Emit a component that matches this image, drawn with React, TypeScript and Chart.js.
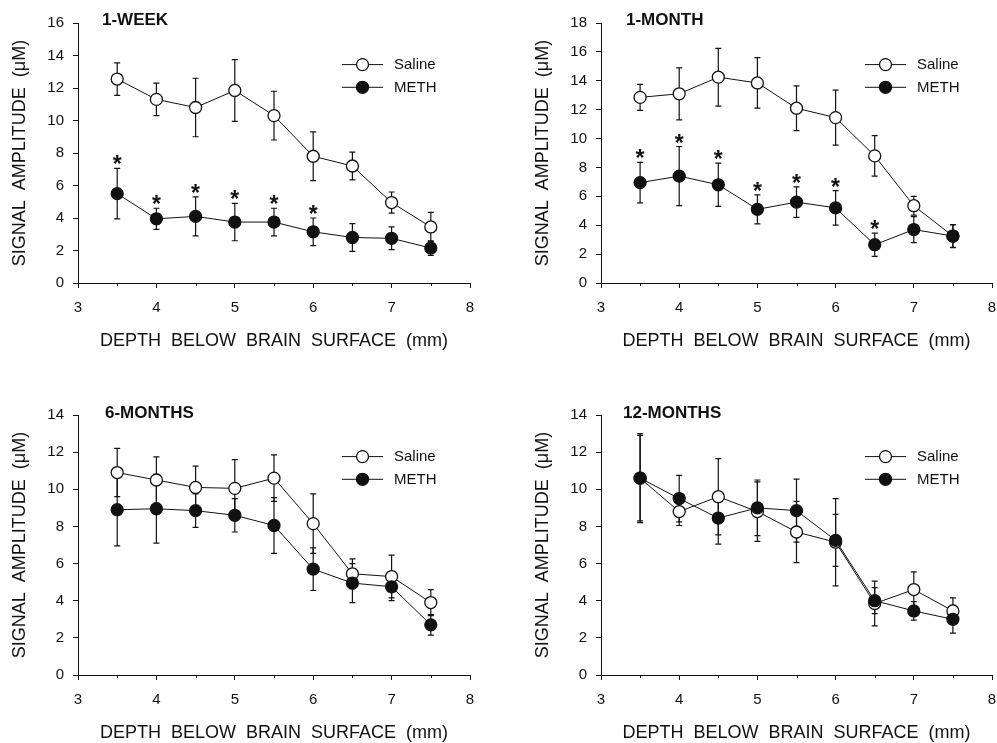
import React, { useEffect, useRef } from 'react';
import { Chart, registerables } from 'chart.js';
Chart.register(...registerables);

const depths = [3.5, 4, 4.5, 5, 5.5, 6, 6.5, 7, 7.5];
const minorTicks = [3.5, 4.5, 5.5, 6.5, 7.5];
const seriesNames = ['Saline', 'METH'];
const panelTitles = ['1-WEEK', '1-MONTH', '6-MONTHS', '12-MONTHS'];
const yMaxes = [16, 18, 14, 14];
const xTitle = 'DEPTH  BELOW  BRAIN  SURFACE  (mm)';
const yTitle = 'SIGNAL  AMPLITUDE  (\u03bcM)';

const week1Saline = [12.55, 11.3, 10.8, 11.85, 10.3, 7.8, 7.2, 4.95, 3.45];
const week1SalineErr = [1.0, 1.0, 1.8, 1.9, 1.5, 1.5, 0.85, 0.65, 0.9];
const week1Meth = [5.5, 3.95, 4.1, 3.75, 3.75, 3.15, 2.8, 2.75, 2.15];
const week1MethErr = [1.55, 0.65, 1.2, 1.15, 0.85, 0.85, 0.85, 0.7, 0.45];
const week1Sig = [1, 1, 1, 1, 1, 1, 0, 0, 0];

const month1Saline = [12.85, 13.1, 14.25, 13.85, 12.1, 11.45, 8.8, 5.35, 3.25];
const month1SalineErr = [0.9, 1.8, 2.0, 1.75, 1.55, 1.9, 1.4, 0.65, 0.78];
const month1Meth = [6.95, 7.4, 6.8, 5.1, 5.6, 5.2, 2.65, 3.7, 3.25];
const month1MethErr = [1.4, 2.05, 1.5, 1.0, 1.05, 1.2, 0.8, 0.9, 0.8];
const month1Sig = [1, 1, 1, 1, 1, 1, 1, 0, 0];

const month6Saline = [10.9, 10.5, 10.1, 10.05, 10.6, 8.15, 5.45, 5.3, 3.9];
const month6SalineErr = [1.3, 1.25, 1.15, 1.55, 1.25, 1.6, 0.8, 1.15, 0.7];
const month6Meth = [8.9, 8.95, 8.85, 8.6, 8.05, 5.7, 4.95, 4.75, 2.7];
const month6MethErr = [1.95, 1.85, 0.9, 0.9, 1.5, 1.15, 1.05, 0.75, 0.55];
const month6Sig = [0, 0, 0, 0, 0, 0, 0, 0, 0];

const month12Saline = [10.6, 8.8, 9.6, 8.8, 7.7, 7.15, 3.85, 4.6, 3.45];
const month12SalineErr = [2.3, 0.75, 2.05, 1.6, 1.65, 2.35, 1.2, 0.95, 0.7];
const month12Meth = [10.6, 9.5, 8.45, 9.0, 8.85, 7.25, 4.0, 3.45, 3.0];
const month12MethErr = [2.4, 1.25, 1.4, 1.5, 1.7, 1.4, 0.7, 0.5, 0.75];
const month12Sig = [0, 0, 0, 0, 0, 0, 0, 0, 0];

const FONT = "'Liberation Sans', Arial, Helvetica, sans-serif";
const INK = '#111';

type Panel = {
  title: string;
  yMax: number;
  saline: number[];
  salineErr: number[];
  meth: number[];
  methErr: number[];
  sig: number[];
  left: number;
  top: number;
  width: number;
  height: number;
  padRight: number;
  padBottom: number;
  titleDx: number;
  titleDy: number;
};

const panels: Panel[] = [
  { title: panelTitles[0], yMax: yMaxes[0], saline: week1Saline, salineErr: week1SalineErr, meth: week1Meth, methErr: week1MethErr, sig: week1Sig,
    left: 0, top: 0, width: 497, height: 392, padRight: 27, padBottom: 40, titleDx: 24, titleDy: -3 },
  { title: panelTitles[1], yMax: yMaxes[1], saline: month1Saline, salineErr: month1SalineErr, meth: month1Meth, methErr: month1MethErr, sig: month1Sig,
    left: 523, top: 0, width: 497, height: 392, padRight: 28, padBottom: 40, titleDx: 25, titleDy: -3 },
  { title: panelTitles[2], yMax: yMaxes[2], saline: month6Saline, salineErr: month6SalineErr, meth: month6Meth, methErr: month6MethErr, sig: month6Sig,
    left: 0, top: 392, width: 497, height: 352, padRight: 27, padBottom: 0, titleDx: 27, titleDy: -2 },
  { title: panelTitles[3], yMax: yMaxes[3], saline: month12Saline, salineErr: month12SalineErr, meth: month12Meth, methErr: month12MethErr, sig: month12Sig,
    left: 523, top: 392, width: 497, height: 352, padRight: 28, padBottom: 0, titleDx: 22, titleDy: -2 },
];

function makePlugin(p: Panel) {
  return {
    id: 'panelDecor',
    beforeDatasetsDraw(chart: any) {
      const ctx = chart.ctx;
      const xs = chart.scales.x;
      const ys = chart.scales.y;
      ctx.save();
      ctx.strokeStyle = INK;
      ctx.lineWidth = 1.2;
      chart.data.datasets.forEach((ds: any) => {
        const errs: number[] = ds.errs;
        ds.data.forEach((pt: any, i: number) => {
          const x = xs.getPixelForValue(pt.x);
          const y1 = ys.getPixelForValue(pt.y + errs[i]);
          const y2 = ys.getPixelForValue(Math.max(0, pt.y - errs[i]));
          ctx.beginPath();
          ctx.moveTo(x, y1);
          ctx.lineTo(x, y2);
          ctx.moveTo(x - 3, y1);
          ctx.lineTo(x + 3, y1);
          ctx.moveTo(x - 3, y2);
          ctx.lineTo(x + 3, y2);
          ctx.stroke();
        });
      });
      ctx.restore();
    },
    afterDraw(chart: any) {
      const ctx = chart.ctx;
      const xs = chart.scales.x;
      const ys = chart.scales.y;
      const area = chart.chartArea;
      ctx.save();
      // minor ticks
      ctx.strokeStyle = INK;
      ctx.lineWidth = 1;
      minorTicks.forEach((v) => {
        const x = Math.round(xs.getPixelForValue(v)) + 0.5;
        ctx.beginPath();
        ctx.moveTo(x, area.bottom);
        ctx.lineTo(x, area.bottom + 3);
        ctx.stroke();
      });
      // significance asterisks
      ctx.fillStyle = INK;
      ctx.font = `bold 23px ${FONT}`;
      ctx.textAlign = 'center';
      ctx.textBaseline = 'alphabetic';
      const meth = chart.data.datasets.find((d: any) => d.label === seriesNames[1]);
      p.sig.forEach((s, i) => {
        if (!s) return;
        const x = xs.getPixelForValue(depths[i]);
        const y = ys.getPixelForValue(meth.data[i].y + meth.errs[i]);
        ctx.fillText('*', x, y + 4);
      });
      // panel title
      ctx.font = `bold 17px ${FONT}`;
      ctx.textAlign = 'left';
      ctx.textBaseline = 'middle';
      ctx.fillText(p.title, area.left + p.titleDx, area.top + p.titleDy);
      // legend
      const rows = [seriesNames[0], seriesNames[1]];
      rows.forEach((name, r) => {
        const ds = chart.data.datasets.find((d: any) => d.label === name);
        const y = area.top + 41.6 + r * 22.7;
        const x0 = area.left + 264;
        ctx.strokeStyle = INK;
        ctx.lineWidth = 1;
        ctx.beginPath();
        ctx.moveTo(x0, y);
        ctx.lineTo(x0 + 41, y);
        ctx.stroke();
        ctx.beginPath();
        ctx.arc(x0 + 20.5, y, 6, 0, Math.PI * 2);
        ctx.fillStyle = ds.pointBackgroundColor;
        ctx.fill();
        ctx.lineWidth = 1.3;
        ctx.stroke();
        ctx.fillStyle = INK;
        ctx.font = `15px ${FONT}`;
        ctx.textAlign = 'left';
        ctx.textBaseline = 'middle';
        ctx.fillText(name, x0 + 52, y + 0.5);
      });
      ctx.restore();
    },
  };
}

function PanelChart({ p }: { p: Panel }) {
  const ref = useRef<HTMLCanvasElement>(null);
  useEffect(() => {
    if (!ref.current) return;
    const toPts = (arr: number[]) => arr.map((v, i) => ({ x: depths[i], y: v }));
    const chart = new Chart(ref.current, {
      type: 'line',
      data: {
        datasets: [
          {
            label: seriesNames[0],
            data: toPts(p.saline),
            errs: p.salineErr,
            borderColor: INK,
            borderWidth: 1,
            pointRadius: 6,
            pointBorderWidth: 1.3,
            pointBorderColor: INK,
            pointBackgroundColor: '#ffffff',
            backgroundColor: '#ffffff',
            tension: 0,
            order: 1,
            clip: false,
          } as any,
          {
            label: seriesNames[1],
            data: toPts(p.meth),
            errs: p.methErr,
            borderColor: INK,
            borderWidth: 1,
            pointRadius: 6,
            pointBorderWidth: 1.3,
            pointBorderColor: INK,
            pointBackgroundColor: INK,
            backgroundColor: INK,
            tension: 0,
            order: 0,
            clip: false,
          } as any,
        ],
      },
      options: {
        animation: false,
        responsive: false,
        maintainAspectRatio: false,
        layout: { padding: { left: 0, top: 23, right: p.padRight, bottom: p.padBottom } },
        plugins: { legend: { display: false }, tooltip: { enabled: false }, title: { display: false } },
        events: [],
        scales: {
          x: {
            type: 'linear',
            min: 3,
            max: 8,
            afterFit: (axis: any) => { axis.height = 69; },
            ticks: { stepSize: 1, padding: 11, color: INK, font: { family: FONT, size: 15 } },
            grid: { drawOnChartArea: false, drawTicks: true, tickLength: 5, color: INK, lineWidth: 1 },
            border: { display: true, color: INK, width: 1 },
            title: { display: true, text: xTitle, color: INK, font: { family: FONT, size: 18 }, padding: { top: 0, bottom: 0 } },
          },
          y: {
            type: 'linear',
            min: 0,
            max: p.yMax,
            afterFit: (axis: any) => { axis.width = 78; },
            ticks: { stepSize: 2, padding: 9, color: INK, font: { family: FONT, size: 15 } },
            grid: { drawOnChartArea: false, drawTicks: true, tickLength: 5, color: INK, lineWidth: 1 },
            border: { display: true, color: INK, width: 1 },
            title: { display: true, text: yTitle, color: INK, font: { family: FONT, size: 18 }, padding: { top: 9, bottom: 0 } },
          },
        },
      },
      plugins: [makePlugin(p)],
    } as any);
    return () => chart.destroy();
  }, [p]);
  return (
    <canvas
      ref={ref}
      width={p.width}
      height={p.height}
      style={{ position: 'absolute', left: p.left, top: p.top, width: p.width, height: p.height }}
    />
  );
}

export default function App() {
  return (
    <div style={{ position: 'absolute', left: 0, top: 0, width: 997, height: 743, overflow: 'hidden', background: '#fff' }}>
      {panels.map((p, i) => (
        <PanelChart key={i} p={p} />
      ))}
    </div>
  );
}
